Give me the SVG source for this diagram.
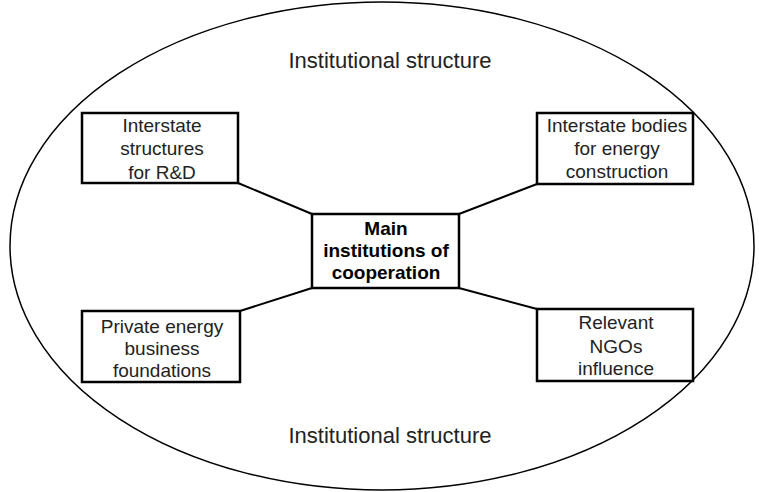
<svg xmlns="http://www.w3.org/2000/svg" width="759" height="492" viewBox="0 0 759 492">
<style>
.box{fill:#fff;stroke:#000;stroke-width:2.5}
.t{font-family:"Liberation Sans",Arial,sans-serif;font-size:19px;fill:#222;text-anchor:middle}
.b{font-weight:bold;fill:#000}
.lbl{font-family:"Liberation Sans",Arial,sans-serif;font-size:22px;fill:#222;text-anchor:middle}
.c{stroke:#000;stroke-width:2;fill:none}
</style>
<rect width="759" height="492" fill="#fff"/>
<g id="outer">
<ellipse cx="382" cy="246" rx="372" ry="244" fill="none" stroke="#000" stroke-width="1.5"/>
<text class="lbl" x="390" y="68">Institutional structure</text>
<text class="lbl" x="390" y="443">Institutional structure</text>
</g>
<g id="connectors">
<line class="c" x1="238" y1="183" x2="312" y2="214"/>
<line class="c" x1="537" y1="184" x2="459" y2="214"/>
<line class="c" x1="240" y1="311" x2="312" y2="288"/>
<line class="c" x1="537" y1="309" x2="459" y2="288"/>
</g>
<g id="rd">
<rect class="box" x="82" y="113" width="156" height="70"/>
<text class="t" x="162" y="132">Interstate</text>
<text class="t" x="162" y="155">structures</text>
<text class="t" x="162" y="179">for R&amp;D</text>
</g>
<g id="energy">
<rect class="box" x="537" y="113" width="156" height="71"/>
<text class="t" x="617" y="132">Interstate bodies</text>
<text class="t" x="617" y="155">for energy</text>
<text class="t" x="617" y="178">construction</text>
</g>
<g id="main">
<rect class="box" x="312" y="214" width="147" height="74"/>
<text class="t b" x="386" y="235">Main</text>
<text class="t b" x="386" y="257">institutions of</text>
<text class="t b" x="386" y="279">cooperation</text>
</g>
<g id="private">
<rect class="box" x="82" y="311" width="158" height="71"/>
<text class="t" x="162" y="333">Private energy</text>
<text class="t" x="162" y="355">business</text>
<text class="t" x="162" y="377">foundations</text>
</g>
<g id="ngo">
<rect class="box" x="537" y="309" width="156" height="72"/>
<text class="t" x="616" y="329">Relevant</text>
<text class="t" x="616" y="353">NGOs</text>
<text class="t" x="616" y="375">influence</text>
</g>
</svg>
